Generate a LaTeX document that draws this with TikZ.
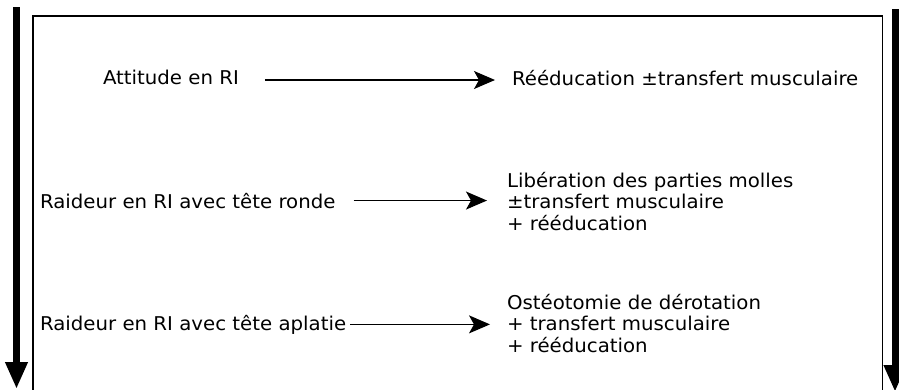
\documentclass[tikz,border=0pt]{standalone}
\usepackage{fontspec}
\setmainfont[FakeStretch=1.04]{DejaVu Sans}
\usetikzlibrary{arrows.meta}
\tikzset{
  lbl/.style={anchor=base west, inner sep=0pt, outer sep=0pt, font=\fontsize{19}{21.5}\selectfont},
  blk/.style={lbl, align=left},
  conn/.style={line width=1.3pt, -{Stealth[length=21pt,width=18pt,inset=5pt]}},
  bigarrow/.style={line width=7pt, line cap=butt, -{Triangle[length=27pt,width=21pt]}},
  frame/.style={line width=1.6pt}
}
\begin{document}
\begin{tikzpicture}[x=1pt,y=-1pt]
\useasboundingbox (0,0) rectangle (899,389);
\clip (0,0) rectangle (899,389);
% frame
\draw[frame] (33,400) -- (33,16) -- (882.5,16) -- (882.5,400);
% big side arrows
\coordinate (ltop) at (16.5,7);
\coordinate (lbot) at (16.5,389);
\coordinate (rtop) at (895,9);
\coordinate (rbot) at (895,392);
\draw[bigarrow] (ltop) -- (lbot);
\draw[bigarrow] (rtop) -- (rbot);
% row 1
\node[lbl] (l1) at (103,84) {Attitude en RI};
\node[lbl] (r1) at (512,85) {Rééducation ±transfert musculaire};
% row 2
\node[lbl] (l2) at (40,208) {Raideur en RI avec tête ronde};
\node[blk] (r2) at (507,230) {Libération des parties molles\\±transfert musculaire\\+ rééducation};
% row 3
\node[lbl] (l3) at (40,330) {Raideur en RI avec tête aplatie};
\node[blk] (r3) at (507,352) {Ostéotomie de dérotation\\+ transfert musculaire\\+ rééducation};
% connectors
\draw[conn, shorten <=26pt, shorten >=17pt] (l1.east |- 0,80) -- (r1.west |- 0,80);
\draw[conn, shorten <=18pt, shorten >=20pt] (l2.east) -- (l2.east -| r2.west);
\draw[conn, shorten <=4pt, shorten >=17pt] (l3.east) -- (l3.east -| r3.west);
\end{tikzpicture}
\end{document}
